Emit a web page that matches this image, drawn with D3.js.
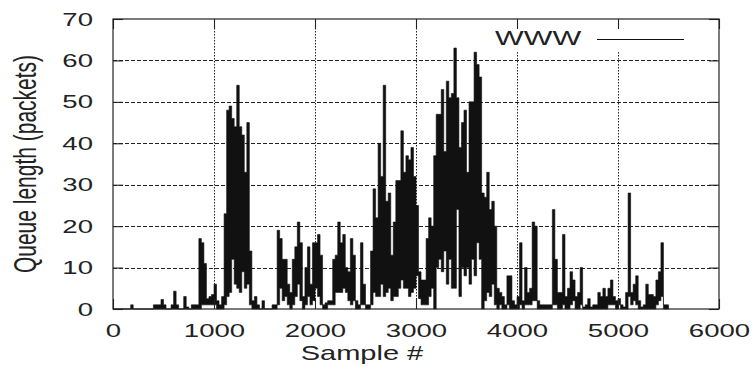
<!DOCTYPE html>
<html>
<head>
<meta charset="utf-8">
<script src="https://cdn.jsdelivr.net/npm/d3@7"></script>
<style>
  html, body { margin: 0; padding: 0; background: #fff; }
  svg { display: block; }
</style>
</head>
<body>
<svg id="queue-chart" width="756" height="372"></svg>
<script>
// queue samples, one entry per block of 25 samples: the highest and the lowest value in that block
const blockSize = 25;
const peakValues = [
  0, 0, 0, 0, 0, 0, 0, 1, 0, 0,
  0, 0, 0, 0, 0, 0, 1, 1, 1, 2.3,
  1, 0, 0, 1, 4.3, 1, 0, 0, 3, 0.5,
  0, 1, 1, 1, 17, 16, 11, 2.5, 3, 3.5,
  6, 2, 1, 3, 23, 48, 49, 46, 44, 54,
  44, 42, 33, 45, 14, 2, 3, 1, 0, 2,
  0, 0, 0, 1, 1, 19, 17, 12, 12, 6,
  4, 12, 15, 21, 16, 3, 10, 15, 6, 16,
  16, 18, 13, 1, 1.5, 2, 2, 12, 13, 21,
  16, 18, 10, 9, 17, 13, 2, 1, 16, 6,
  1, 1, 14, 29, 22, 40, 32, 54, 26, 28,
  13, 21, 31, 31, 43, 33, 37, 36, 39, 32,
  25, 9, 7, 7, 17, 22, 20, 37, 47, 47,
  53, 38, 55, 51, 52, 63, 51, 39, 45, 48,
  33, 50, 50, 62, 59, 56, 28, 27, 33, 24,
  26, 20, 5, 4, 3, 1, 8, 8, 2, 1,
  3, 16, 2, 10, 4, 5, 21, 20, 2, 1,
  1, 1, 1, 1, 24, 12, 4, 4, 18, 3,
  5, 9, 7, 3, 4, 10, 0.5, 1, 2.5, 0.5,
  1, 1, 4, 3, 5, 3, 5, 7, 3, 2,
  2.5, 1, 0.5, 4, 28, 4, 6, 8, 2, 0.5,
  1, 6, 3.5, 3.5, 3, 7, 9, 16, 1, 1
];
const troughValues = [
  0, 0, 0, 0, 0, 0, 0, 0, 0, 0,
  0, 0, 0, 0, 0, 0, 0, 0, 0, 0,
  0, 0, 0, 0, 0, 0, 0, 0, 0, 0,
  0, 0, 0, 0, 0, 1, 1, 1, 1, 1,
  1, 0, 0, 0, 1, 3, 4, 12, 6, 5,
  4, 9, 5, 6, 1, 0, 0, 0, 0, 0,
  0, 0, 0, 0, 0, 1, 5, 2, 3, 1,
  0, 1, 3, 6, 2, 0, 1, 3, 1, 2,
  5, 3, 1, 0, 0, 1, 1, 1, 4, 4,
  4, 5, 4, 2, 1, 2, 0, 0, 1, 1,
  0, 0, 1, 4, 3, 3, 6, 3, 4, 5,
  2, 3, 3, 5, 7, 5, 5, 3, 4, 5,
  8, 2.5, 1, 1, 1, 3, 5, 0, 10, 12,
  9, 14, 6, 12, 5, 5, 24, 3, 10, 8,
  10, 6, 12, 8, 16, 12, 0, 2, 4, 3,
  6, 1, 0, 1, 0, 0, 1, 0, 0, 0,
  0, 1, 0, 1, 1, 1, 2, 2, 0, 0,
  0, 0, 0, 0, 1, 1, 0, 0, 1, 0,
  0, 1, 2, 0, 0, 1, 0, 0, 0, 0,
  0, 0, 0, 0, 0, 0, 1, 1, 1, 0,
  1, 0, 0, 0, 3, 1, 2, 1, 0, 0,
  0, 0, 0, 0, 0, 1, 2, 3, 0, 0
];

const xTicks = [0, 1000, 2000, 3000, 4000, 5000, 6000];
const yTicks = [0, 10, 20, 30, 40, 50, 60, 70];
const xGrid = [1000, 2000, 3000, 4000, 5000];
const yGrid = [10, 20, 30, 40, 50, 60];
const seriesName = "WWW";
const xTitle = "Sample #";
const yTitle = "Queue length (packets)";

drawQueueChart();

function drawQueueChart() {
    let svg = d3.select("#queue-chart");
    let fontFamily = '"Liberation Sans", Arial, Helvetica, sans-serif';
    let ink = "#222";
    // the original picture is stretched sideways, text included
    let stretch = "scale(1.45,1)";

    let plot = {left: 113, right: 719, top: 19, bottom: 309};

    let x = d3.scaleLinear().domain([0, 6000]).range([plot.left, plot.right]);
    let y = d3.scaleLinear().domain([0, 70]).range([plot.bottom, plot.top]);

    // grid first, the data covers it
    let grid = svg.append("g").attr("stroke", "#222").attr("stroke-width", 1);
    grid.selectAll("line.gy").data(yGrid).enter().append("line")
        .attr("x1", plot.left).attr("x2", plot.right)
        .attr("y1", d => Math.round(y(d)) + 0.5).attr("y2", d => Math.round(y(d)) + 0.5)
        .attr("stroke-dasharray", "4,2");
    grid.selectAll("line.gx").data(xGrid).enter().append("line")
        .attr("x1", d => Math.round(x(d)) + 0.5).attr("x2", d => Math.round(x(d)) + 0.5)
        .attr("y1", plot.top).attr("y2", plot.bottom)
        .attr("stroke-dasharray", "1.5,1.5");

    // gnuplot keeps the key area free of grid
    svg.append("rect")
        .attr("x", 486).attr("y", plot.top + 1)
        .attr("width", plot.right - 486 - 1).attr("height", 31)
        .attr("fill", "#fff");

    // each block is filled between its trough and its peak
    let blocks = peakValues.map(function (peak, i) {
        return {sample: i * blockSize, hi: peak, lo: troughValues[i]};
    });
    let last = blocks[blocks.length - 1];
    blocks.push({sample: last.sample + blockSize, hi: last.hi, lo: last.lo});

    let area = d3.area()
        .curve(d3.curveStepAfter)
        .x(d => x(d.sample))
        .y0(d => y(d.lo))
        .y1(d => y(d.hi));

    svg.append("path")
        .datum(blocks)
        .attr("d", area)
        .attr("fill", "#111")
        .attr("stroke", "#111")
        .attr("stroke-width", 0.6);

    // ticks point inward on all four sides
    let left = svg.append("g")
        .attr("transform", "translate(" + plot.left + ",0)")
        .call(d3.axisLeft(y).tickValues(yTicks).tickSize(-10).tickPadding(13.8));
    let bottom = svg.append("g")
        .attr("transform", "translate(0," + plot.bottom + ")")
        .call(d3.axisBottom(x).tickValues(xTicks).tickFormat(d3.format("d")).tickSize(-10).tickPadding(14.5));
    let right = svg.append("g")
        .attr("transform", "translate(" + plot.right + ",0)")
        .call(d3.axisRight(y).tickValues(yTicks).tickSize(-10).tickFormat(""));
    let top = svg.append("g")
        .attr("transform", "translate(0," + plot.top + ")")
        .call(d3.axisTop(x).tickValues(xTicks).tickSize(-10).tickFormat(""));

    [left, bottom, right, top].forEach(function (axis) {
        axis.select(".domain").remove();
        axis.selectAll(".tick line").attr("stroke", ink).attr("stroke-width", 1.1);
    });
    [left, bottom].forEach(function (axis) {
        axis.attr("font-family", fontFamily).attr("font-size", 19);
        axis.selectAll(".tick text").attr("fill", ink).attr("transform", stretch);
    });

    svg.append("rect")
        .attr("x", plot.left).attr("y", plot.top)
        .attr("width", plot.right - plot.left).attr("height", plot.bottom - plot.top)
        .attr("fill", "none").attr("stroke", ink).attr("stroke-width", 1.2);

    // key
    svg.append("text")
        .attr("transform", "translate(495,45) " + stretch)
        .attr("font-family", fontFamily).attr("font-size", 21).attr("fill", ink)
        .text(seriesName);
    svg.append("line")
        .attr("x1", 597).attr("x2", 684).attr("y1", 39.5).attr("y2", 39.5)
        .attr("stroke", "#111").attr("stroke-width", 1.1);

    // axis titles
    svg.append("text")
        .attr("transform", "translate(362,360) " + stretch)
        .attr("text-anchor", "middle")
        .attr("font-family", fontFamily).attr("font-size", 20).attr("fill", ink)
        .text(xTitle);
    svg.append("text")
        .attr("transform", "translate(36,164) " + stretch + " rotate(-90)")
        .attr("text-anchor", "middle")
        .attr("font-family", fontFamily).attr("font-size", 21).attr("fill", ink)
        .text(yTitle);
}
</script>
</body>
</html>
